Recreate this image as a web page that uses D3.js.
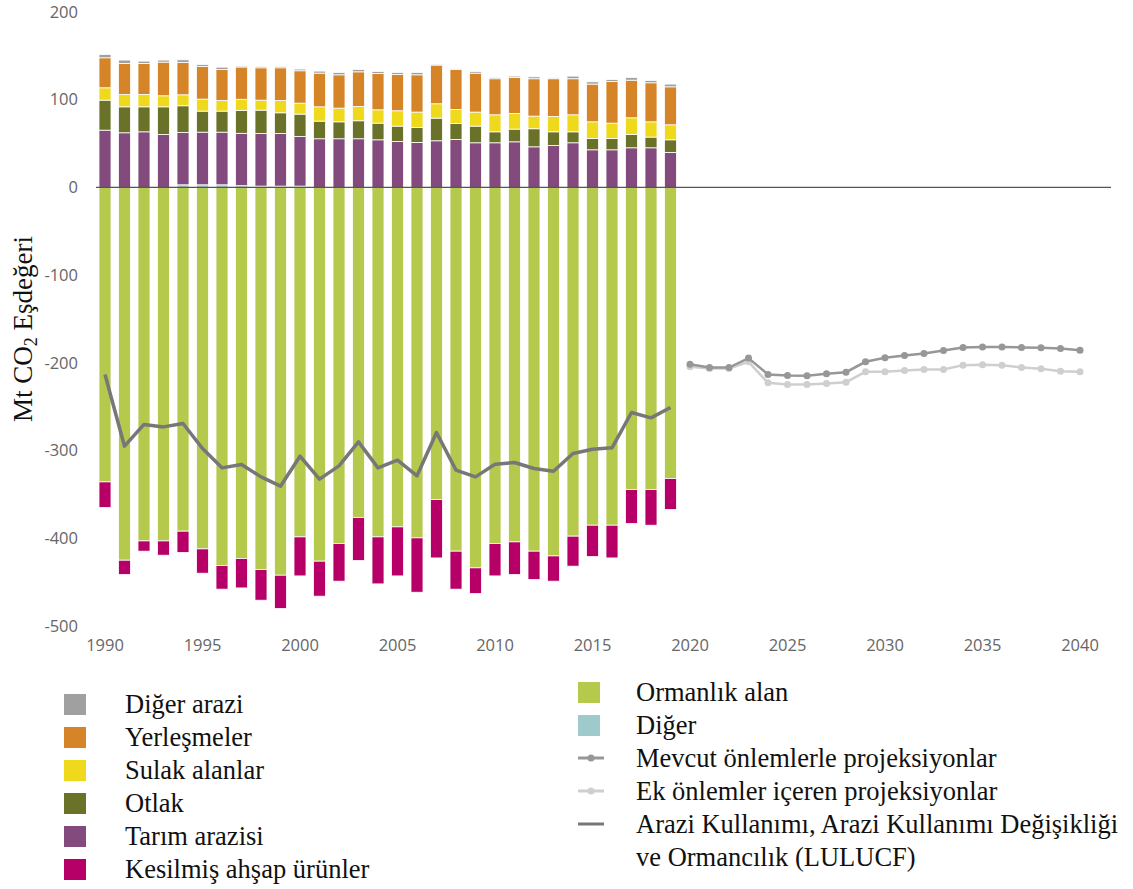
<!DOCTYPE html>
<html lang="tr">
<head>
    <meta charset="UTF-8">
    <title>LULUCF</title>
    <script src="https://d3js.org/d3.v7.min.js"></script>
    <style>
        body { margin: 0; background: #fff; }
        .tick-label { font-family: "Open Sans", sans-serif; font-size: 16.5px; fill: #666; }
        .serif { font-family: "Liberation Serif", "Times New Roman", serif; fill: #111; }
    </style>
</head>
<body>
    <svg id="chart" width="1133" height="889"></svg>

    <script>
        // yillar (gecmis envanter)
        const years = [1990, 1991, 1992, 1993, 1994, 1995, 1996, 1997, 1998, 1999,
                       2000, 2001, 2002, 2003, 2004, 2005, 2006, 2007, 2008, 2009,
                       2010, 2011, 2012, 2013, 2014, 2015, 2016, 2017, 2018, 2019];

        const diger       = [0, 0, 0, 0, 3, 3, 3, 2, 1.5, 1.5, 1.5, 0, 0, 0, 0, 0, 0, 0, 0, 0, 0, 0, 0, 0, 0, 0, 0, 0, 0, 0];
        const tarim       = [65.3, 62.3, 63.4, 60.4, 59.7, 60.0, 60.0, 59.7, 60.0, 60.0, 56.6, 55.5, 55.5, 55.5, 54.3, 52.4, 51.3, 53.2, 54.7, 50.9, 50.9, 52.0, 46.3, 47.9, 50.9, 42.9, 42.9, 45.2, 45.2, 39.9];
        const otlak       = [34.2, 29.6, 28.5, 31.5, 30.4, 24.0, 24.0, 26.2, 26.6, 23.6, 25.5, 20.1, 19.3, 20.5, 19.0, 17.5, 17.1, 25.8, 18.2, 19.0, 12.5, 14.5, 20.6, 15.5, 12.5, 12.9, 12.9, 15.2, 12.2, 14.4];
        const sulak       = [14.1, 14.1, 14.1, 12.6, 12.5, 13.7, 12.1, 12.6, 11.4, 14.0, 12.5, 16.3, 15.6, 16.3, 15.2, 17.5, 17.5, 16.4, 16.0, 16.0, 19.4, 17.8, 14.4, 17.5, 19.4, 19.0, 17.5, 19.0, 17.4, 17.1];
        const yerlesmeler = [34.2, 35.4, 35.4, 38.4, 36.9, 37.2, 35.4, 36.8, 36.9, 37.3, 36.9, 38.4, 38.0, 39.5, 41.5, 41.4, 42.5, 44.1, 45.6, 44.4, 41.1, 41.1, 42.6, 43.0, 41.1, 43.0, 47.5, 42.9, 44.5, 43.3];
        const digerArazi  = [3.8, 3.8, 2.6, 2.3, 3.0, 2.3, 2.6, 1.2, 1.5, 1.5, 1.9, 2.3, 2.7, 2.7, 2.2, 2.3, 2.7, 1.1, 0.8, 1.9, 1.5, 1.5, 2.2, 1.1, 3.0, 2.6, 2.3, 3.1, 2.7, 3.1];
        const ormanlik    = [-335.7, -425.0, -403.0, -403.0, -391.9, -412.1, -431.0, -423.0, -435.6, -442.1, -398.4, -426.1, -405.9, -376.3, -398.4, -387.0, -399.5, -355.8, -414.7, -433.7, -405.9, -404.1, -414.7, -420.1, -397.6, -385.1, -385.1, -344.4, -344.4, -331.8];
        const kesilmis    = [-29.2, -16.3, -11.7, -16.3, -24.3, -27.7, -27.0, -33.6, -35.0, -37.9, -44.5, -39.9, -43.0, -49.0, -53.6, -55.9, -62.0, -66.6, -43.3, -29.3, -37.0, -37.2, -32.3, -28.8, -34.2, -35.7, -37.3, -38.7, -40.7, -35.4];
        const lulucf      = [-213.2, -295.0, -270.2, -273.0, -269.1, -297.6, -319.7, -315.9, -330.0, -340.6, -306.4, -332.6, -317.4, -290.1, -319.7, -311.0, -328.8, -279.4, -322.3, -330.0, -315.5, -313.6, -320.4, -323.5, -303.3, -298.4, -296.9, -256.6, -262.7, -250.9];

        // projeksiyonlar
        const projYears = [2020, 2021, 2022, 2023, 2024, 2025, 2026, 2027, 2028, 2029, 2030,
                           2031, 2032, 2033, 2034, 2035, 2036, 2037, 2038, 2039, 2040];
        const mevcut = [-201.5, -205.3, -205.3, -194.6, -213.2, -214.4, -214.8, -212.5, -210.6, -198.8, -194.3, -191.6, -189.3, -185.9, -182.4, -181.8, -181.8, -182.4, -182.9, -183.6, -185.5];
        const ek     = [-204.5, -206.4, -206.4, -198.8, -222.8, -224.6, -224.6, -223.5, -222.0, -210.2, -210.2, -208.7, -207.5, -207.5, -202.6, -202.3, -202.6, -205.3, -206.8, -209.5, -210.2];

        const yTicks = [200, 100, 0, -100, -200, -300, -400, -500];
        const xTicks = [1990, 1995, 2000, 2005, 2010, 2015, 2020, 2025, 2030, 2035, 2040];

        const series = [
            { key: "diger", name: "Diğer", color: "#9fcacb", values: diger },
            { key: "tarim", name: "Tarım arazisi", color: "#834a7d", values: tarim },
            { key: "otlak", name: "Otlak", color: "#6a7229", values: otlak },
            { key: "sulak", name: "Sulak alanlar", color: "#eed91c", values: sulak },
            { key: "yerlesmeler", name: "Yerleşmeler", color: "#d58427", values: yerlesmeler },
            { key: "digerArazi", name: "Diğer arazi", color: "#a0a0a0", values: digerArazi },
            { key: "ormanlik", name: "Ormanlık alan", color: "#b5c94c", values: ormanlik },
            { key: "kesilmis", name: "Kesilmiş ahşap ürünler", color: "#b60068", values: kesilmis }
        ];
        const colorOf = {};
        series.forEach(s => colorOf[s.key] = s.color);

        const table = years.map((yr, i) => {
            const row = { year: yr };
            series.forEach(s => row[s.key] = s.values[i]);
            return row;
        });

        const svg = d3.select("#chart");
        const x = d3.scaleLinear().domain([1990, 2040]).range([105, 1080]);
        const y = d3.scaleLinear().domain([-500, 200]).range([626, 12]);
        const barW = 12;

        const stacked = d3.stack()
            .keys(series.map(s => s.key))
            .offset(d3.stackOffsetDiverging)(table);

        svg.append("g").selectAll("g")
            .data(stacked)
            .enter().append("g")
            .attr("fill", d => colorOf[d.key])
            .selectAll("rect")
            .data(d => d.filter(p => p[1] !== p[0]))
            .enter().append("rect")
            .attr("x", d => x(d.data.year) - barW / 2)
            .attr("width", barW)
            .attr("y", d => y(Math.max(d[0], d[1])))
            .attr("height", d => Math.abs(y(d[0]) - y(d[1])))
            .attr("stroke", "#fff")
            .attr("stroke-width", 0.8);

        // sifir cizgisi
        svg.append("line")
            .attr("x1", 96).attr("x2", 1111)
            .attr("y1", y(0)).attr("y2", y(0))
            .attr("stroke", "#555").attr("stroke-width", 1.2);

        // y ekseni etiketleri
        svg.selectAll("text.ytick")
            .data(yTicks)
            .enter().append("text")
            .attr("class", "tick-label")
            .attr("x", 78)
            .attr("y", d => y(d))
            .attr("dy", "0.35em")
            .attr("text-anchor", "end")
            .text(d => d);

        svg.selectAll("text.xtick")
            .data(xTicks)
            .enter().append("text")
            .attr("class", "tick-label")
            .attr("x", d => x(d))
            .attr("y", 651)
            .attr("text-anchor", "middle")
            .text(d => d);

        // eksen basligi
        const title = svg.append("text")
            .attr("class", "serif")
            .attr("font-size", 27)
            .attr("text-anchor", "middle")
            .attr("transform", "translate(32,329) rotate(-90)");
        title.append("tspan").text("Mt CO");
        title.append("tspan").attr("font-size", 18).attr("dy", 5).text("2");
        title.append("tspan").attr("dy", -5).text(" Eşdeğeri");

        // LULUCF toplam cizgisi
        const line = d3.line().x(d => x(d[0])).y(d => y(d[1]));
        svg.append("path")
            .datum(years.map((yr, i) => [yr, lulucf[i]]))
            .attr("d", line)
            .attr("fill", "none")
            .attr("stroke", "#777")
            .attr("stroke-width", 3.5)
            .attr("stroke-linejoin", "round");

        // projeksiyon cizgileri
        const projections = [
            { values: ek, color: "#cfcfcf" },
            { values: mevcut, color: "#979797" }
        ];
        projections.forEach(p => {
            const pts = projYears.map((yr, i) => [yr, p.values[i]]);
            svg.append("path")
                .datum(pts)
                .attr("d", line)
                .attr("fill", "none")
                .attr("stroke", p.color)
                .attr("stroke-width", 2.5);
            svg.append("g").selectAll("circle")
                .data(pts)
                .enter().append("circle")
                .attr("cx", d => x(d[0]))
                .attr("cy", d => y(d[1]))
                .attr("r", 3.5)
                .attr("fill", p.color);
        });

        // lejant - sol sutun
        const legendSize = 26.5;
        const leftLegend = ["digerArazi", "yerlesmeler", "sulak", "otlak", "tarim", "kesilmis"]
            .map(k => series.find(s => s.key === k));
        const lg = svg.append("g");
        leftLegend.forEach((s, i) => {
            const cy = 704 + i * 33;
            lg.append("rect")
                .attr("x", 64).attr("y", cy - 10)
                .attr("width", 22).attr("height", 21)
                .attr("fill", s.color);
            lg.append("text")
                .attr("class", "serif")
                .attr("font-size", legendSize)
                .attr("x", 125).attr("y", cy + 9)
                .text(s.name);
        });

        // lejant - sag sutun
        const rightLegend = [
            { type: "box", color: colorOf.ormanlik, name: "Ormanlık alan" },
            { type: "box", color: colorOf.diger, name: "Diğer" },
            { type: "dot", color: "#979797", name: "Mevcut önlemlerle projeksiyonlar" },
            { type: "dot", color: "#cfcfcf", name: "Ek önlemler içeren projeksiyonlar" },
            { type: "line", color: "#777", name: "Arazi Kullanımı, Arazi Kullanımı Değişikliği" }
        ];
        rightLegend.forEach((d, i) => {
            const cy = 692 + i * 33;
            if (d.type === "box") {
                lg.append("rect")
                    .attr("x", 578).attr("y", cy - 10)
                    .attr("width", 22).attr("height", 21)
                    .attr("fill", d.color);
            } else {
                lg.append("line")
                    .attr("x1", 578).attr("x2", 604)
                    .attr("y1", cy).attr("y2", cy)
                    .attr("stroke", d.color).attr("stroke-width", 3);
                if (d.type === "dot") {
                    lg.append("circle").attr("cx", 591).attr("cy", cy).attr("r", 3.5).attr("fill", d.color);
                }
            }
            lg.append("text")
                .attr("class", "serif")
                .attr("font-size", legendSize)
                .attr("x", 636).attr("y", cy + 9)
                .text(d.name);
        });
        lg.append("text")
            .attr("class", "serif")
            .attr("font-size", legendSize)
            .attr("x", 636).attr("y", 692 + 5 * 33 + 9)
            .text("ve Ormancılık (LULUCF)");
    </script>
</body>
</html>
